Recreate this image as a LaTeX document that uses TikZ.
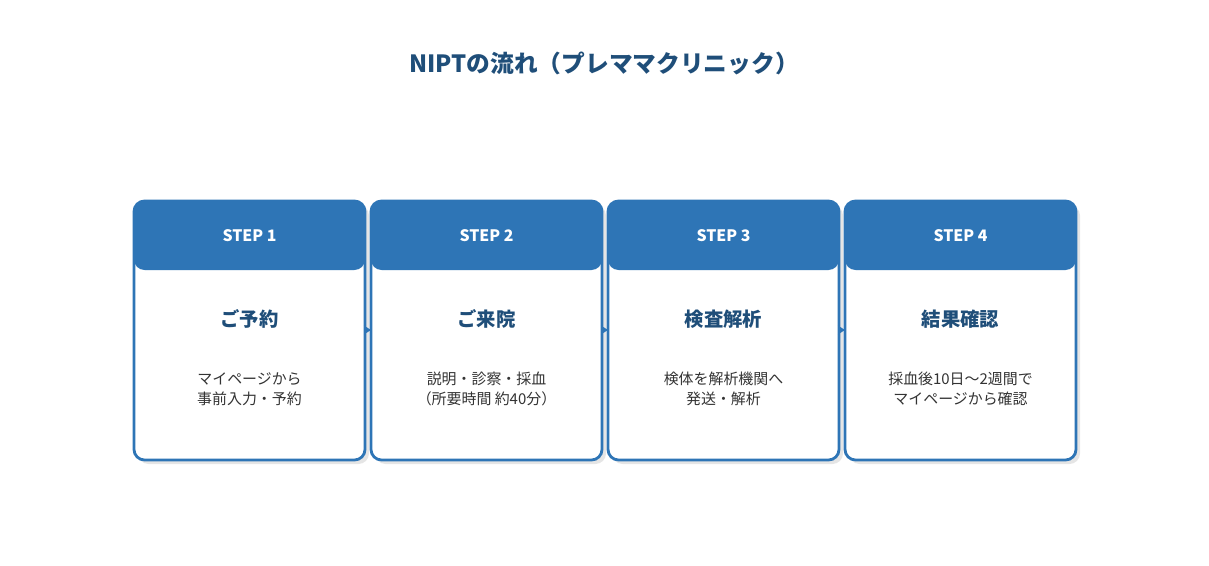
\documentclass[tikz,border=0pt]{standalone}
\usepackage{fontspec}
\setmainfont{Noto Sans CJK JP}
\usetikzlibrary{arrows.meta}
\definecolor{stepblue}{HTML}{2E75B6}
\definecolor{titleblue}{HTML}{1F4E79}
\definecolor{bodygray}{HTML}{333333}
\tikzstyle{card} = [draw=stepblue, line width=1.6pt, fill=white, rounded corners=6pt]
\tikzstyle{head} = [fill=stepblue, rounded corners=6pt]
\tikzstyle{link} = [stepblue, line width=1.4pt, -{Stealth[length=4pt,width=5pt]}]

\begin{document}
\begin{tikzpicture}[x=0.02cm, y=-0.02cm]
		\useasboundingbox (0,0) rectangle (1209,565);
		\node (title) at (604,63) {\fontsize{13.5}{16}\selectfont\bfseries\color{titleblue} NIPTの流れ（プレママクリニック）};

		\foreach \i/\name/\lineA/\lineB in {0/ご予約/マイページから/事前入力・予約, 1/ご来院/説明・診察・採血/（所要時間 約40分）, 2/検査解析/検体を解析機関へ/発送・解析, 3/結果確認/採血後10日〜2週間で/マイページから確認}{
			\pgfmathsetmacro{\xl}{134+237*\i}
			\fill[black!10, rounded corners=6pt] (\xl+4,205) rectangle ++(231,259);
			\draw[card] (\xl,201) rectangle ++(231,259);
			\fill[head] (\xl,201) rectangle ++(231,69);
			\pgfmathtruncatemacro{\n}{\i+1}
			\node[white, font=\fontsize{9}{11}\selectfont\bfseries] (step\n) at (\xl+115.5,236) {STEP \n};
			\node[titleblue, font=\fontsize{11}{13}\selectfont\bfseries] (name\n) at (\xl+115.5,319) {\name};
			\node[bodygray, align=center, font=\fontsize{8.5}{11.5}\selectfont] (text\n) at (\xl+115.5,389) {\lineA\\\lineB};
			\coordinate (in\n) at (\xl,330);
			\coordinate (out\n) at (\xl+231,330);
		}

		\draw[link] (out1) -- (in2);
		\draw[link] (out2) -- (in3);
		\draw[link] (out3) -- (in4);

	\end{tikzpicture}
\end{document}
